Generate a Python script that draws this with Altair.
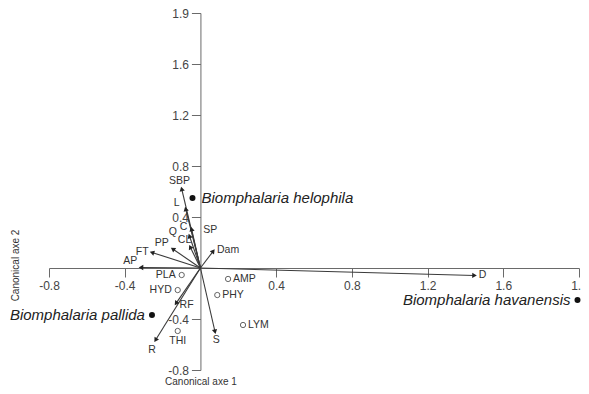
import altair as alt
import pandas as pd

# Environmental vectors (arrow tips, canonical axes 1 and 2)
vec_names = ["SBP", "L", "C", "Q", "CL", "PP", "FT", "AP", "Dam", "D", "RF", "R", "S"]
vec_x = [-0.099, -0.078, -0.047, -0.058, -0.054, -0.146, -0.256, -0.314, 0.068, 1.448, -0.129, -0.237, 0.077]
vec_y = [0.620, 0.463, 0.306, 0.251, 0.165, 0.149, 0.122, 0.004, 0.133, -0.059, -0.277, -0.565, -0.500]

# Vector label positions
lab_names = ["SBP", "L", "C", "Q", "CL", "SP", "PP", "FT", "AP", "Dam", "D", "RF", "R", "S"]
lab_x = [-0.110, -0.125, -0.089, -0.146, -0.084, 0.052, -0.204, -0.308, -0.371, 0.146, 1.490, -0.073, -0.256, 0.084]
lab_y = [0.682, 0.510, 0.322, 0.282, 0.220, 0.298, 0.196, 0.125, 0.055, 0.141, -0.055, -0.290, -0.643, -0.565]

# Other species (open circles)
sp_names = ["PLA", "HYD", "THI", "AMP", "PHY", "LYM"]
sp_x = [-0.099, -0.120, -0.120, 0.146, 0.089, 0.225]
sp_y = [-0.055, -0.173, -0.494, -0.086, -0.212, -0.447]
sp_side = ["left", "left", "below", "right", "right", "right"]

# Biomphalaria species (filled dots)
bio_names = ["Biomphalaria helophila", "Biomphalaria pallida", "Biomphalaria havanensis"]
bio_x = [-0.042, -0.256, 1.992]
bio_y = [0.549, -0.369, -0.251]
bio_side = ["right", "left", "left"]

x_ticks = [-0.8, -0.4, 0.4, 0.8, 1.2, 1.6, 2.0]
y_ticks = [-0.8, -0.4, 0.4, 0.8, 1.2, 1.6, 2.0]
DOM = [-0.8, 2.0]

W, H = 530, 357
KX = W / (DOM[1] - DOM[0])
KY = H / (DOM[1] - DOM[0])
ZERO_X = -DOM[0] * KX
ZERO_Y = DOM[1] * KY

FONT = "Liberation Sans"
TXT = "#333333"
AX = "#6a6a6a"

vec = pd.DataFrame({"name": vec_names, "x": vec_x, "y": vec_y, "x0": 0.0, "y0": 0.0})
lab = pd.DataFrame({"name": lab_names, "x": lab_x, "y": lab_y})
sp = pd.DataFrame({"name": sp_names, "x": sp_x, "y": sp_y, "side": sp_side})
bio = pd.DataFrame({"name": bio_names, "x": bio_x, "y": bio_y, "side": bio_side})

lab_expr = "datum.value > 1.95 ? '1.9' : (datum.value < 0 ? '-' + format(-datum.value, '.1f') : format(datum.value, '.1f'))"

xs = alt.Scale(domain=DOM, nice=False, zero=False)
ys = alt.Scale(domain=DOM, nice=False, zero=False)

common_axis = dict(
    grid=False, domainColor=AX, tickColor=AX, tickSize=9, domainWidth=1, tickWidth=1,
    labelFont=FONT, labelFontSize=12, labelColor="#444444", labelPadding=3,
    titleFont=FONT, titleFontSize=10, titleFontWeight="normal", titleColor=TXT,
    labelExpr=lab_expr,
)

x_axis = alt.Axis(values=x_ticks, orient="bottom", offset=-(H - ZERO_Y),
                  title="Canonical axe 1", titleX=ZERO_X, titleY=113,
                  titleAlign="center", titleBaseline="middle",
                  labelFlush=False, labelOverlap=False, **common_axis)
y_axis = alt.Axis(values=y_ticks, orient="left", offset=-ZERO_X,
                  title="Canonical axe 2", titleX=-185, titleY=252, titleAngle=270,
                  titleAlign="center", titleBaseline="middle",
                  labelFlush=False, labelOverlap=False, **common_axis)

arrows = alt.Chart(vec).mark_rule(color="#3a3a3a", strokeWidth=1.1).encode(
    x=alt.X("x0:Q", scale=xs, axis=x_axis),
    y=alt.Y("y0:Q", scale=ys, axis=y_axis),
    x2="x:Q", y2="y:Q",
)

heads = alt.Chart(vec).transform_calculate(
    ang=f"(atan2(datum.x * {KX}, datum.y * {KY}) * 180 / PI + 360) % 360"
).mark_point(shape="triangle-up", filled=True, size=28, color="#222222", opacity=1).encode(
    x=alt.X("x:Q", scale=xs), y=alt.Y("y:Q", scale=ys), angle=alt.Angle("ang:Q", scale=None)
)

vec_labels = alt.Chart(lab).mark_text(font=FONT, fontSize=10.5, color=TXT, align="center", baseline="middle").encode(
    x=alt.X("x:Q", scale=xs), y=alt.Y("y:Q", scale=ys), text="name:N"
)

sp_pts = alt.Chart(sp).mark_point(shape="circle", filled=False, size=28, color="#555555", strokeWidth=0.9, opacity=1).encode(
    x=alt.X("x:Q", scale=xs), y=alt.Y("y:Q", scale=ys)
)
sp_left = alt.Chart(sp).transform_filter("datum.side == 'left'").mark_text(
    font=FONT, fontSize=10.5, color=TXT, align="right", baseline="middle", dx=-6).encode(
    x=alt.X("x:Q", scale=xs), y=alt.Y("y:Q", scale=ys), text="name:N")
sp_right = alt.Chart(sp).transform_filter("datum.side == 'right'").mark_text(
    font=FONT, fontSize=10.5, color=TXT, align="left", baseline="middle", dx=5).encode(
    x=alt.X("x:Q", scale=xs), y=alt.Y("y:Q", scale=ys), text="name:N")
sp_below = alt.Chart(sp).transform_filter("datum.side == 'below'").mark_text(
    font=FONT, fontSize=10.5, color=TXT, align="center", baseline="middle", dy=10).encode(
    x=alt.X("x:Q", scale=xs), y=alt.Y("y:Q", scale=ys), text="name:N")

bio_pts = alt.Chart(bio).mark_point(shape="circle", filled=True, size=36, color="#111111", opacity=1).encode(
    x=alt.X("x:Q", scale=xs), y=alt.Y("y:Q", scale=ys)
)
bio_right = alt.Chart(bio).transform_filter("datum.side == 'right'").mark_text(
    font=FONT, fontSize=15, fontStyle="italic", color="#222222", align="left", baseline="middle", dx=9).encode(
    x=alt.X("x:Q", scale=xs), y=alt.Y("y:Q", scale=ys), text="name:N")
bio_left = alt.Chart(bio).transform_filter("datum.side == 'left'").mark_text(
    font=FONT, fontSize=15, fontStyle="italic", color="#222222", align="right", baseline="middle", dx=-7).encode(
    x=alt.X("x:Q", scale=xs), y=alt.Y("y:Q", scale=ys), text="name:N")

chart = alt.layer(
    arrows, heads, vec_labels, sp_pts, sp_left, sp_right, sp_below, bio_pts, bio_right, bio_left
).properties(
    width=W, height=H,
    autosize=alt.AutoSizeParams(type="none"),
    padding={"left": 41, "top": 5, "right": 2, "bottom": 16},
    background="white",
).configure_view(stroke=None)

chart.save("out.html", embed_options={"renderer": "svg", "actions": False})
